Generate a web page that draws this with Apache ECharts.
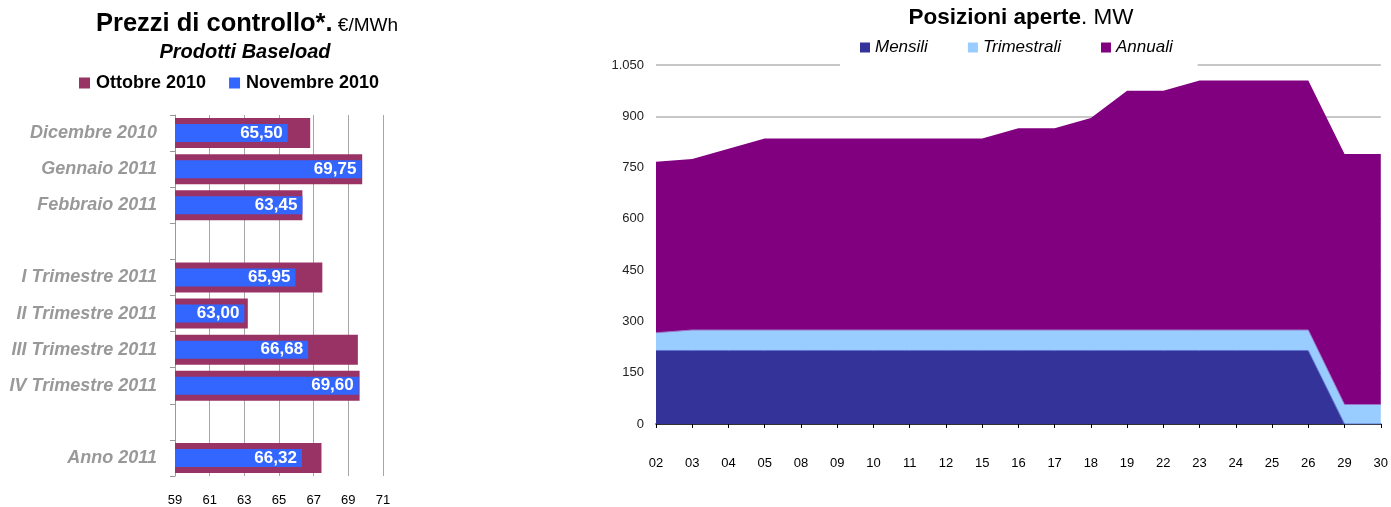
<!DOCTYPE html>
<html>
<head>
<meta charset="utf-8">
<title>Prezzi di controllo / Posizioni aperte</title>
<script src="https://cdn.jsdelivr.net/npm/echarts@6/dist/echarts.min.js"></script>
<style>
  html, body { margin: 0; padding: 0; background: #fff; }
  #chart { width: 1391px; height: 507px; }
</style>
</head>
<body>
<div id="chart"></div>
<script>
// --- left chart: prezzi di controllo (€/MWh)
var prodotti = ['Dicembre 2010', 'Gennaio 2011', 'Febbraio 2011', ' ',
  'I Trimestre 2011', 'II Trimestre 2011', 'III Trimestre 2011', 'IV Trimestre 2011', '  ',
  'Anno 2011'];
var ottobre2010 = [66.8, 69.8, 66.35, null, 67.5, 63.2, 69.55, 69.65, null, 67.45];
var novembre2010 = [65.50, 69.75, 66.35, null, 65.95, 63.00, 66.68, 69.60, null, 66.32];
var novembreLabels = ['65,50', '69,75', '63,45', '', '65,95', '63,00', '66,68', '69,60', '', '66,32'];

// --- right chart: posizioni aperte (MW)
var giorni = ['02', '03', '04', '05', '08', '09', '10', '11', '12', '15', '16',
  '17', '18', '19', '22', '23', '24', '25', '26', '29', '30'];
var mensili = [215, 215, 215, 215, 215, 215, 215, 215, 215, 215, 215,
  215, 215, 215, 215, 215, 215, 215, 215, 0, 0];
var trimestrali = [52, 60, 60, 60, 60, 60, 60, 60, 60, 60, 60,
  60, 60, 60, 60, 60, 60, 60, 60, 57, 57];
var annuali = [500, 500, 530, 560, 560, 560, 560, 560, 560, 560, 590,
  590, 620, 700, 700, 730, 730, 730, 730, 733, 733];

var FONT = "'Liberation Sans', Arial, sans-serif";

var chart = echarts.init(document.getElementById('chart'));

// the price bars sit on two twin category axes so each one is centred on its row
var prodottiAxis = {
  gridIndex: 0, type: 'category', data: prodotti, inverse: true,
  axisLine: { show: true, lineStyle: { color: '#999', width: 1 } },
  axisTick: { show: true, length: 5, lineStyle: { color: '#999' } },
  splitLine: { show: false },
  axisLabel: {
    color: '#999', fontSize: 18, fontWeight: 'bold', fontStyle: 'italic',
    margin: 18, interval: 0
  }
};

chart.setOption({
  animation: false,
  textStyle: { fontFamily: FONT },
  title: [
    {
      text: '{b|Prezzi di controllo*.}{n| €/MWh}',
      left: 247, top: 24, padding: 0,
      textAlign: 'center', textVerticalAlign: 'middle',
      textStyle: {
        rich: {
          b: { fontFamily: FONT, fontSize: 25.5, fontWeight: 'bold', color: '#000' },
          n: { fontFamily: FONT, fontSize: 19, fontWeight: 'normal', color: '#000', padding: [4, 0, 0, 0] }
        }
      }
    },
    {
      text: 'Prodotti Baseload',
      left: 245, top: 52, padding: 0,
      textAlign: 'center', textVerticalAlign: 'middle',
      textStyle: { fontFamily: FONT, fontSize: 20, fontWeight: 'bold', fontStyle: 'italic', color: '#000' }
    },
    {
      text: '{b|Posizioni aperte}{n|. MW}',
      left: 1021, top: 18, padding: 0,
      textAlign: 'center', textVerticalAlign: 'middle',
      textStyle: {
        rich: {
          b: { fontFamily: FONT, fontSize: 22.5, fontWeight: 'bold', color: '#000' },
          n: { fontFamily: FONT, fontSize: 22.5, fontWeight: 'normal', color: '#000' }
        }
      }
    }
  ],
  legend: [
    {
      data: ['Ottobre 2010', 'Novembre 2010'],
      left: 79, top: 74, padding: 0,
      itemWidth: 11, itemHeight: 11, itemGap: 23,
      icon: 'rect',
      textStyle: { fontFamily: FONT, fontSize: 18, fontWeight: 'bold', color: '#000', padding: [0, 0, 0, 1] }
    },
    {
      data: ['Mensili', 'Trimestrali', 'Annuali'],
      left: 840, top: 31, padding: [8, 25, 12, 20],
      backgroundColor: '#fff',
      itemWidth: 10, itemHeight: 10, itemGap: 40,
      icon: 'rect',
      textStyle: { fontFamily: FONT, fontSize: 17, fontStyle: 'italic', color: '#000' }
    }
  ],
  grid: [
    { left: 175, top: 115, width: 208, height: 364, containLabel: false },
    { left: 656, right: 7, top: 65, bottom: 83, containLabel: false }
  ],
  xAxis: [
    {
      gridIndex: 0, type: 'value', min: 59, max: 71, interval: 2,
      axisLine: { show: false },
      axisTick: { show: false },
      splitLine: { show: true, lineStyle: { color: '#a6a6a6', width: 1 } },
      axisLabel: { color: '#000', fontSize: 13, margin: 18 }
    },
    {
      gridIndex: 1, type: 'category', data: giorni, boundaryGap: false,
      axisLine: { show: true, lineStyle: { color: '#000', width: 1.5 } },
      axisTick: { show: true, length: 4, lineStyle: { color: '#000' } },
      splitLine: { show: false },
      axisLabel: { color: '#000', fontSize: 13, margin: 33, interval: 0 }
    }
  ],
  yAxis: [
    prodottiAxis,
    {
      gridIndex: 1, type: 'value', min: 0, max: 1050, interval: 150,
      axisLine: { show: false },
      axisTick: { show: false },
      splitLine: { show: true, lineStyle: { color: '#b5b5b5', width: 1.5 } },
      axisLabel: {
        color: '#222', fontSize: 13, margin: 12,
        formatter: function (v) {
          return String(v).replace(/\B(?=(\d{3})+(?!\d))/g, '.');
        }
      }
    },
    {
      gridIndex: 0, type: 'category', data: prodotti, inverse: true,
      show: false
    }
  ],
  series: [
    {
      name: 'Ottobre 2010', type: 'bar', xAxisIndex: 0, yAxisIndex: 0,
      data: ottobre2010, barWidth: 30,
      itemStyle: { color: '#993366' }
    },
    {
      name: 'Novembre 2010', type: 'bar', xAxisIndex: 0, yAxisIndex: 2,
      data: novembre2010, barWidth: 18,
      itemStyle: { color: '#3366FF' },
      label: {
        show: true, position: 'insideRight', distance: 5,
        color: '#fff', fontSize: 17, fontWeight: 'bold', fontFamily: FONT,
        formatter: function (p) { return novembreLabels[p.dataIndex]; }
      }
    },
    {
      name: 'Mensili', type: 'line', xAxisIndex: 1, yAxisIndex: 1,
      stack: 'posizioni', data: mensili, symbol: 'none',
      itemStyle: { color: '#333399' },
      lineStyle: { color: '#5f74d2', width: 1 },
      areaStyle: { color: '#333399', opacity: 1 }
    },
    {
      name: 'Trimestrali', type: 'line', xAxisIndex: 1, yAxisIndex: 1,
      stack: 'posizioni', data: trimestrali, symbol: 'none',
      itemStyle: { color: '#99CCFF' },
      lineStyle: { color: '#9a73c4', width: 1 },
      areaStyle: { color: '#99CCFF', opacity: 1 }
    },
    {
      name: 'Annuali', type: 'line', xAxisIndex: 1, yAxisIndex: 1,
      stack: 'posizioni', data: annuali, symbol: 'none',
      itemStyle: { color: '#800080' },
      lineStyle: { color: '#800080', width: 0 },
      areaStyle: { color: '#800080', opacity: 1 }
    }
  ]
});
</script>
</body>
</html>
